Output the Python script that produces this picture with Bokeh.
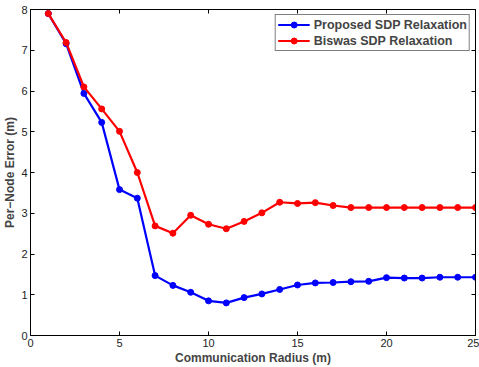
from bokeh.plotting import figure
from bokeh.models import Range1d, LinearAxis, FixedTicker, Legend, LegendItem
from bokeh.embed import file_html
from bokeh.resources import INLINE

radius = list(range(1, 26))
proposed = [7.90, 7.16, 5.94, 5.23, 3.58, 3.37, 1.47, 1.23, 1.06, 0.85, 0.80,
            0.93, 1.02, 1.13, 1.24, 1.29, 1.30, 1.32, 1.33, 1.42, 1.41, 1.41,
            1.43, 1.43, 1.43]
biswas = [7.90, 7.19, 6.10, 5.56, 5.01, 4.00, 2.69, 2.51, 2.95, 2.73, 2.62,
          2.80, 3.01, 3.27, 3.24, 3.26, 3.19, 3.14, 3.14, 3.14, 3.14, 3.14,
          3.14, 3.14, 3.14]
x_ticks = [0, 5, 10, 15, 20, 25]
y_ticks = [0, 1, 2, 3, 4, 5, 6, 7, 8]
series_names = ["Proposed SDP Relaxation", "Biswas SDP Relaxation"]
FONT = "Liberation Sans"

p = figure(width=479, height=367, output_backend="svg", toolbar_location=None,
           x_range=Range1d(0, 25), y_range=Range1d(0, 8),
           min_border_left=0, min_border_right=4, min_border_top=9, min_border_bottom=0)
p.outline_line_color = "black"
p.outline_line_width = 1
p.xgrid.visible = False
p.ygrid.visible = False
p.background_fill_color = "white"

for ax, ticks in ((p.xaxis[0], x_ticks), (p.yaxis[0], y_ticks)):
    ax.ticker = FixedTicker(ticks=ticks)
    ax.major_tick_in = 4
    ax.major_tick_out = 0
    ax.minor_tick_line_color = None
    ax.axis_line_color = "black"
    ax.major_label_text_font = FONT
    ax.major_label_text_font_size = "11px"
    ax.major_label_text_color = "#222222"
    ax.axis_label_text_font = FONT
    ax.axis_label_text_font_size = "12px"
    ax.axis_label_text_font_style = "bold"
    ax.major_label_standoff = 3
    ax.axis_label_standoff = 1

p.xaxis.axis_label = "Communication Radius (m)"
p.yaxis.axis_label = "Per\u2212Node Error (m)"

top = LinearAxis(ticker=FixedTicker(ticks=x_ticks), major_tick_in=4, major_tick_out=0,
                 minor_tick_line_color=None,
                 major_label_overrides={t: "" for t in x_ticks},
                 major_label_standoff=0)
right = LinearAxis(ticker=FixedTicker(ticks=y_ticks), major_tick_in=4, major_tick_out=0,
                   minor_tick_line_color=None,
                   major_label_overrides={t: "" for t in y_ticks},
                   major_label_standoff=0)
p.add_layout(top, "above")
p.add_layout(right, "right")

l1 = p.line(radius, proposed, color="#0000ff", line_width=2.2)
c1 = p.scatter(radius, proposed, color="#0000ff", size=6)
l2 = p.line(radius, biswas, color="#ff0000", line_width=2.2)
c2 = p.scatter(radius, biswas, color="#ff0000", size=6)

legend = Legend(items=[LegendItem(label=series_names[0], renderers=[l1, c1]),
                       LegendItem(label=series_names[1], renderers=[l2, c2])],
                location="top_right")
legend.label_text_font = FONT
legend.label_text_font_size = "12.5px"
legend.label_text_font_style = "bold"
legend.border_line_color = "black"
legend.border_line_width = 1
legend.padding = 2
legend.spacing = 1
legend.margin = 5
legend.label_height = 15
legend.glyph_height = 15
legend.glyph_width = 32
legend.label_standoff = 4
p.add_layout(legend)

open("out.html", "w").write(file_html(p, INLINE))
